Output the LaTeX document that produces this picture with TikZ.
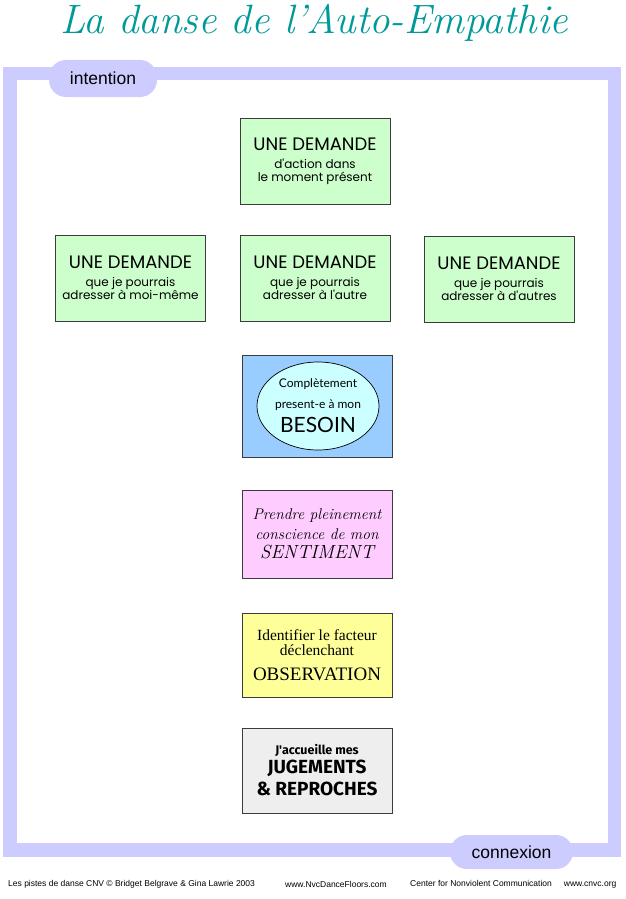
\documentclass[tikz,border=0pt]{standalone}
\usepackage{fontspec}
\newfontfamily\arialfont{Liberation Sans}
\newfontfamily\gothicfont{Poppins}
\newfontfamily\roundfont{Lato}
\newfontfamily\timesfont{Liberation Serif}
\newfontfamily\comicfont{Fira Sans}
\definecolor{titleteal}{RGB}{0, 153, 153}
\definecolor{bandblue}{RGB}{204, 204, 255}
\definecolor{demandgreen}{RGB}{204, 255, 204}
\definecolor{needblue}{RGB}{153, 204, 255}
\definecolor{needcyan}{RGB}{204, 255, 255}
\definecolor{feelpink}{RGB}{255, 204, 255}
\definecolor{obsyellow}{RGB}{255, 255, 153}
\definecolor{judgegrey}{RGB}{238, 238, 238}
\definecolor{boxedge}{RGB}{60, 60, 60}
\usetikzlibrary{shapes.geometric, positioning}

\tikzset{
  cardbox/.style={rectangle, draw=boxedge, line width=0.9pt, minimum width=150pt,
                  align=center, inner sep=2pt},
  demandbox/.style={cardbox, fill=demandgreen, minimum height=86pt,
                    font=\gothicfont\fontsize{12}{13}\selectfont},
  pill/.style={rectangle, rounded corners=17pt, fill=bandblue, inner sep=0pt,
               font=\arialfont\fontsize{17.5}{19}\selectfont},
  creditline/.style={anchor=west, inner sep=0pt, font=\arialfont\fontsize{8.5}{9}\selectfont}
}

\begin{document}
\begin{tikzpicture}[x=1pt, y=-1pt]
        \useasboundingbox (0,0) rectangle (625,899);
        % title
        \node[text=titleteal, font=\fontsize{41}{45}\itshape\selectfont] (title) at (314,23)
          {La danse de l'Auto-Empathie};
        % frame
        \draw[bandblue, line width=13.5pt] (10,73.5) rectangle (614.5,850);
        \node[pill, minimum width=108pt, minimum height=37pt] (intention) at (103,78.5) {intention};
        \node[pill, minimum width=123pt, minimum height=34pt] (connexion) at (511.5,852) {connexion};
        % demandes
        \node[demandbox] (demAction) at (315,161)
          {\fontsize{18}{20}\selectfont UNE DEMANDE\\[5pt]
           d'action dans\\le moment présent};
        \node[demandbox] (demSelf) at (130.5,278)
          {\fontsize{18}{20}\selectfont UNE DEMANDE\\[5pt]
           que je pourrais\\adresser à moi-même};
        \node[demandbox] (demOther) at (315,278)
          {\fontsize{18}{20}\selectfont UNE DEMANDE\\[5pt]
           que je pourrais\\adresser à l'autre};
        \node[demandbox] (demOthers) at (499,279)
          {\fontsize{18}{20}\selectfont UNE DEMANDE\\[5pt]
           que je pourrais\\adresser à d'autres};
        % besoin
        \node[cardbox, fill=needblue, minimum height=102pt] (besoin) at (317,406) {};
        \node[ellipse, draw=black, line width=0.7pt, fill=needcyan, minimum width=122pt,
              minimum height=88pt, inner sep=0pt, align=center,
              font=\roundfont\fontsize{12}{21}\selectfont] (besoinText) at (318,406)
          {Complètement\\present-e à mon\\[3pt]
           \fontsize{21}{24}\selectfont BESOIN};
        % sentiment
        \node[cardbox, fill=feelpink, minimum height=88pt,
              font=\itshape\fontsize{15.5}{19.5}\selectfont] (sentiment) at (317,534)
          {Prendre pleinement\\conscience de mon\\
           \fontsize{19}{20}\selectfont SENTIMENT};
        % observation
        \node[cardbox, fill=obsyellow, minimum height=84pt,
              font=\timesfont\fontsize{15.5}{15}\selectfont] (observation) at (317,655)
          {Identifier le facteur\\déclenchant\\[10pt]
           \fontsize{19}{20}\selectfont OBSERVATION};
        % jugements
        \node[cardbox, fill=judgegrey, minimum height=85pt,
              font=\comicfont\bfseries\fontsize{12.5}{19}\selectfont] (jugements) at (317,770.5)
          {J'accueille mes\\
           \fontsize{19}{20}\selectfont JUGEMENTS\\[3pt]
           \fontsize{19}{20}\selectfont \& REPROCHES};
        % footer
        \node[creditline] (credits) at (8,884) {Les pistes de danse CNV © Bridget Belgrave \& Gina Lawrie 2003};
        \node[creditline] (siteDance) at (285,884) {www.NvcDanceFloors.com};
        \node[creditline] (siteCnvc) at (410,884) {Center for Nonviolent Communication\hspace{12pt}www.cnvc.org};
      \end{tikzpicture}
\end{document}
